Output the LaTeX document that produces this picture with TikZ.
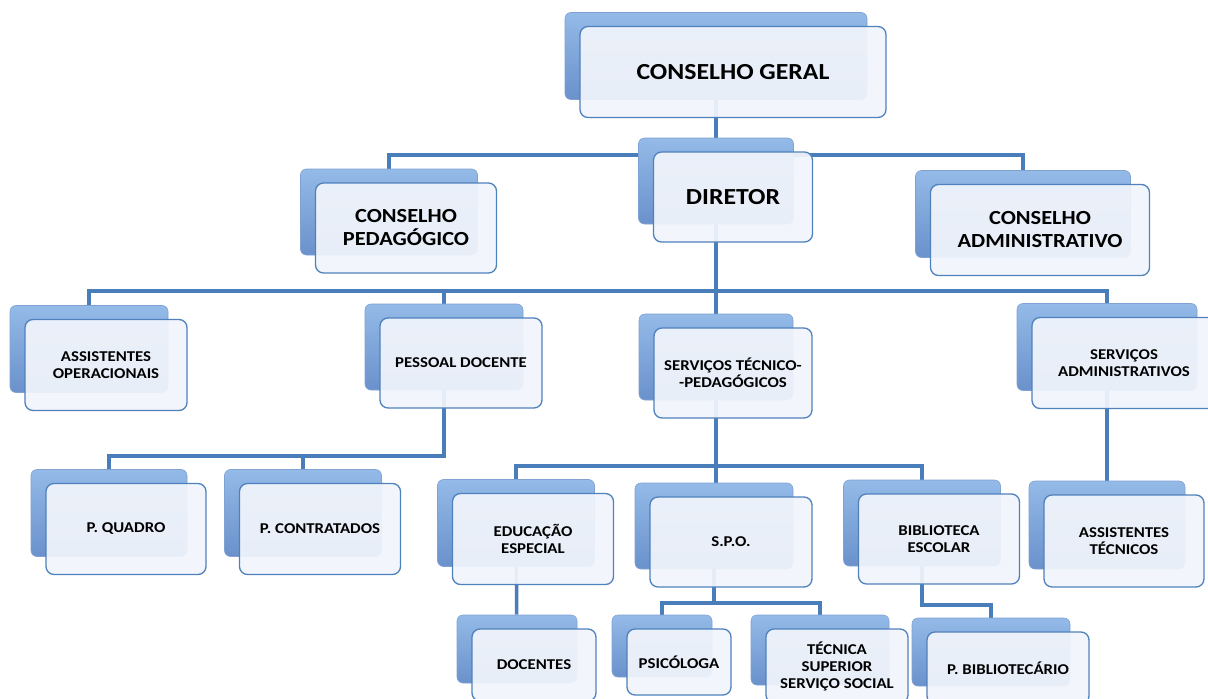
\documentclass[tikz,border=0pt]{standalone}
\usepackage{fontspec}
\setmainfont{Carlito}[FakeStretch=1.12]
\usetikzlibrary{backgrounds}
\definecolor{linkblue}{RGB}{74,126,187}
\definecolor{shadetop}{RGB}{148,186,232}
\definecolor{shadebot}{RGB}{106,145,203}
\definecolor{paneborder}{RGB}{79,129,189}
\definecolor{panefill}{RGB}{242,245,251}
% [style]{name}{front centre}{width}{height}{text}
\newcommand{\orgbox}[6][]{%
  \node[backbox, minimum width=#4-4, minimum height=#5-4] (#2) at ([shift={(-17,-16)}]#3) {};
  \node[frontbox, #1, minimum width=#4, minimum height=#5] (#2f) at (#3) {#6};
}

\begin{document}
\begin{tikzpicture}[x=1pt, y=-1pt,
  conn/.style={draw=linkblue, line width=3.5pt},
  backbox/.style={rounded corners=6pt, top color=shadetop, bottom color=shadebot, draw=shadebot!85!white, line width=0.6pt},
  frontbox/.style={rounded corners=8pt, draw=paneborder, line width=1.3pt, fill=panefill, fill opacity=0.93, text opacity=1, align=center, font=\bfseries\fontsize{15}{17}\selectfont},
  big/.style={font=\bfseries\fontsize{23}{27}\selectfont},
  mid/.style={font=\bfseries\fontsize{20}{23}\selectfont}]
  \useasboundingbox (0,0) rectangle (1208,699);

  \orgbox[big]{cg}{733,72}{306}{91}{CONSELHO GERAL}
  \orgbox[big]{dir}{733,197}{159}{90}{DIRETOR}
  \orgbox[mid]{cp}{406,228}{181}{90}{CONSELHO\\PEDAGÓGICO}
  \orgbox[mid]{ca}{1040,230}{219}{91}{CONSELHO\\ADMINISTRATIVO}

  \orgbox{ao}{106,365}{162}{91}{ASSISTENTES\\OPERACIONAIS}
  \orgbox{pd}{461,363}{162}{90}{PESSOAL DOCENTE}
  \orgbox{stp}{733,373}{158}{90}{SERVIÇOS TÉCNICO-\\-PEDAGÓGICOS}
  \orgbox{sa}{1124,363}{184}{91}{SERVIÇOS\\ADMINISTRATIVOS}

  \orgbox{pq}{126,529}{160}{91}{P. QUADRO}
  \orgbox{pc}{320,529}{161}{91}{P. CONTRATADOS}
  \orgbox{ee}{533,539}{161}{91}{EDUCAÇÃO\\ESPECIAL}
  \orgbox{spo}{731,542}{162}{90}{S.P.O.}
  \orgbox{be}{939,539}{161}{90}{BIBLIOTECA\\ESCOLAR}
  \orgbox{at}{1124,541}{160}{92}{ASSISTENTES\\TÉCNICOS}

  \orgbox{doc}{534,665}{124}{72}{DOCENTES}
  \orgbox{psi}{679,662}{104}{66}{PSICÓLOGA}
  \orgbox{tss}{837,666}{142}{74}{TÉCNICA\\SUPERIOR\\SERVIÇO SOCIAL}
  \orgbox{pb}{1008,668}{162}{72}{P. BIBLIOTECÁRIO}

  \begin{scope}[on background layer]
    \fill[white] (0,0) rectangle (1208,699);
    \coordinate (bus1) at (716,155);
    \coordinate (bus2) at (716,291);
    \coordinate (bus3) at (300,456);
    \coordinate (bus4) at (716,466);
    \coordinate (bus5) at (714,603);
    \coordinate (bus6) at (950,605);
    \draw[conn] (cg) -- (dir);
    \draw[conn] (cp) |- (bus1) -| (ca);
    \draw[conn] (dir) -- (stp);
    \draw[conn] (ao) |- (bus2) -| (sa);
    \draw[conn] (pd) -- (pd |- bus2);
    \draw[conn] (pq) |- (bus3) -| (pd);
    \draw[conn] (pc) -- (pc |- bus3);
    \draw[conn] (sa) -- (at);
    \draw[conn] (ee) |- (bus4) -| (be);
    \draw[conn] (stp) -- (stp |- spo.north);
    \draw[conn] (ee) -- (doc);
    \draw[conn] (psi) |- (bus5) -| (tss);
    \draw[conn] (spo) -- (spo |- bus5);
    \draw[conn] (be) |- (bus6) -| (pb);
  \end{scope}
\end{tikzpicture}
\end{document}
